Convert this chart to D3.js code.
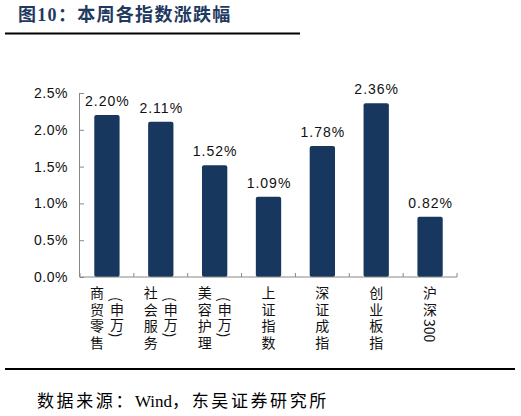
<!DOCTYPE html>
<html>
<head>
<meta charset="utf-8">
<script src="https://cdn.jsdelivr.net/npm/d3@7"></script>
<style>
  body { margin: 0; background: #fff; }
  svg { display: block; }
</style>
</head>
<body>
<script>
// chart data
var categories = ["商贸零售(申万)", "社会服务(申万)", "美容护理(申万)", "上证指数", "深证成指", "创业板指", "沪深300"];
var values = [2.20, 2.11, 1.52, 1.09, 1.78, 2.36, 0.82];
var yTicks = [0, 0.5, 1.0, 1.5, 2.0, 2.5];

var W = 521, H = 416;
var cjk = "'Noto Sans CJK SC', sans-serif";

var svg = d3.select("body").append("svg")
  .attr("width", W)
  .attr("height", H);

// title + rules
svg.append("text")
  .attr("x", 18)
  .attr("y", 21)
  .style("font-family", "'Liberation Serif', 'Noto Sans CJK SC', serif")
  .style("font-weight", "bold")
  .style("font-size", "18px")
  .style("letter-spacing", "1.3px")
  .style("fill", "#1f3a60")
  .text("图10：本周各指数涨跌幅");

svg.append("line")
  .attr("x1", 5).attr("x2", 300)
  .attr("y1", 33.5).attr("y2", 33.5)
  .style("stroke", "#000").style("stroke-width", 2);

svg.append("line")
  .attr("x1", 5).attr("x2", 515)
  .attr("y1", 369).attr("y2", 369)
  .style("stroke", "#000").style("stroke-width", 2);

var src = svg.append("text")
  .attr("x", 37)
  .attr("y", 407)
  .style("font-family", "'Liberation Serif', 'Noto Sans CJK SC', serif")
  .style("font-size", "17px")
  .style("fill", "#000");
src.append("tspan").style("letter-spacing", "2.6px").text("数据来源：");
src.append("tspan").style("letter-spacing", "0px").text("Wind");
src.append("tspan").style("letter-spacing", "2.6px").text("，东吴证券研究所");

// scales
var x = d3.scaleBand()
  .domain(categories)
  .range([80, 457])
  .padding(0);

var y = d3.scaleLinear()
  .domain([0, 2.5])
  .range([277, 93]);

var axisColor = "#888";

// bars
var barW = x.bandwidth() * 0.47;
svg.selectAll("rect.bar")
  .data(values)
  .enter()
  .append("rect")
  .attr("class", "bar")
  .attr("x", function(d, i) { return x(categories[i]) + x.bandwidth() / 2 - barW / 2 })
  .attr("y", function(d) { return y(d) })
  .attr("width", barW)
  .attr("height", function(d) { return y(0) - y(d) })
  .attr("rx", 2)
  .style("fill", "#17375e");

// value labels
svg.selectAll("text.val")
  .data(values)
  .enter()
  .append("text")
  .attr("class", "val")
  .attr("x", function(d, i) { return x(categories[i]) + x.bandwidth() / 2 + 0.5 })
  .attr("y", function(d) { return y(d) - 9 })
  .attr("text-anchor", "middle")
  .style("font-family", "'Liberation Sans', Arial, sans-serif")
  .style("font-size", "14px")
  .style("letter-spacing", "1px")
  .style("fill", "#111")
  .text(function(d) { return d.toFixed(2) + "%" });

// y axis
var yAxis = svg.append("g")
  .attr("transform", "translate(80,0)")
  .call(d3.axisLeft(y).tickValues(yTicks).tickSize(-4).tickPadding(12)
    .tickFormat(function(d) { return d.toFixed(1) + "%" }));
yAxis.select(".domain").attr("d", "M-0.5," + y(2.5) + "V" + y(0)).style("stroke", axisColor);
yAxis.selectAll(".tick line").style("stroke", axisColor);
yAxis.selectAll(".tick text")
  .style("font-family", "'Liberation Sans', Arial, sans-serif")
  .style("font-size", "14px")
  .style("letter-spacing", "0.5px")
  .style("fill", "#111");

// x axis line + boundary ticks
var bounds = categories.map(function(c) { return x(c) }).concat([x.range()[1]]);
svg.append("line")
  .attr("x1", 79.5).attr("x2", 457)
  .attr("y1", 277).attr("y2", 277)
  .style("stroke", axisColor);
svg.selectAll("line.xt")
  .data(bounds)
  .enter()
  .append("line")
  .attr("class", "xt")
  .attr("x1", function(d) { return d }).attr("x2", function(d) { return d })
  .attr("y1", 277).attr("y2", 273)
  .style("stroke", axisColor);

// category labels, written vertically
var labels = svg.selectAll("g.cat")
  .data(categories)
  .enter()
  .append("g")
  .attr("class", "cat");

labels.each(function(c) {
  var g = d3.select(this);
  var cx = x(c) + x.bandwidth() / 2;
  var two = c.indexOf("(申万)") >= 0;
  var main = c.replace("(申万)", "");
  var t = g.append("text")
    .attr("x", two ? cx - 10 : cx)
    .attr("y", 286)
    .attr("writing-mode", "vertical-rl")
    .style("font-family", cjk)
    .style("font-size", "14px")
    .style("fill", "#111");
  // CJK glyphs get extra spacing, digits stay tight
  var m = main.match(/^([^0-9]*)([0-9]*)$/);
  t.append("tspan").style("letter-spacing", "2.5px").text(m[1]);
  if (m[2]) t.append("tspan").style("letter-spacing", "0px").text(m[2]);
  if (two) {
    g.append("text")
      .attr("x", cx + 10)
      .attr("y", 297)
      .attr("writing-mode", "vertical-rl")
      .style("font-family", cjk)
      .style("font-size", "14px")
      .style("letter-spacing", "1px")
      .style("fill", "#111")
      .text("(申万)");
  }
});
</script>
</body>
</html>
